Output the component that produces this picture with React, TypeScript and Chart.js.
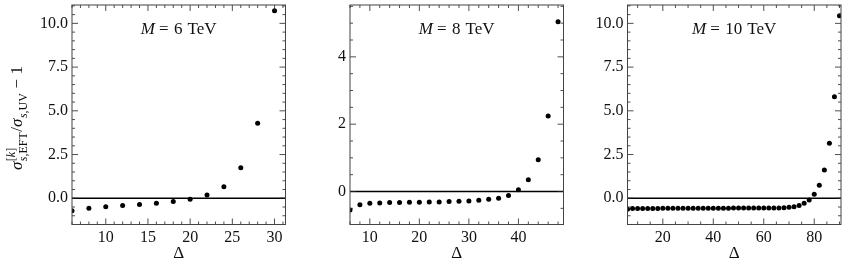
import React, { useEffect, useRef } from "react";
import { Chart, registerables } from "chart.js";

Chart.register(...registerables);

// ---------- data ----------
const deltaM6 = [6, 8, 10, 12, 14, 16, 18, 20, 22, 24, 26, 28, 30];
const ratioM6 = [-0.71, -0.57, -0.48, -0.42, -0.35, -0.29, -0.19, -0.06, 0.19, 0.66, 1.75, 4.29, 10.72];

const deltaM8 = [6, 8, 10, 12, 14, 16, 18, 20, 22, 24, 26, 28, 30, 32, 34, 36, 38, 40, 42, 44, 46, 48];
const ratioM8 = [
  -0.55, -0.39, -0.35, -0.34, -0.33, -0.33, -0.32, -0.32, -0.31, -0.31, -0.3, -0.29, -0.28, -0.26, -0.23, -0.2,
  -0.12, 0.05, 0.35, 0.94, 2.24, 5.04,
];

const deltaM10 = [
  6, 8, 10, 12, 14, 16, 18, 20, 22, 24, 26, 28, 30, 32, 34, 36, 38, 40, 42, 44, 46, 48, 50, 52, 54, 56, 58, 60, 62,
  64, 66, 68, 70, 72, 74, 76, 78, 80, 82, 84, 86, 88, 90,
];
const ratioM10 = [
  -0.63, -0.58, -0.58, -0.58, -0.58, -0.58, -0.58, -0.57, -0.57, -0.57, -0.57, -0.57, -0.57, -0.57, -0.57, -0.57,
  -0.57, -0.57, -0.57, -0.57, -0.57, -0.56, -0.56, -0.56, -0.56, -0.56, -0.56, -0.56, -0.55, -0.55, -0.55, -0.54,
  -0.52, -0.48, -0.42, -0.29, -0.1, 0.23, 0.74, 1.62, 3.14, 5.81, 10.44,
];

const xTicksM6 = [10, 15, 20, 25, 30];
const yTicksM6 = [0, 2.5, 5, 7.5, 10];
const xTicksM8 = [10, 20, 30, 40];
const yTicksM8 = [0, 2, 4];
const xTicksM10 = [20, 40, 60, 80];
const yTicksM10 = [0, 2.5, 5, 7.5, 10];

const massLabels = ["6", "8", "10"];
const xTitle = "Δ";

// ---------- layout / style ----------
const FONT = "'Liberation Serif', 'DejaVu Serif', serif";
const H = 275;
const PLOT_W = 213.5;
const PLOT_TOP = 5;
const PLOT_BOTTOM = 224.5;

type PanelCfg = {
  mass: string;
  deltas: number[];
  values: number[];
  xTicks: number[];
  yTicks: number[];
  xMin: number;
  xMax: number;
  yMin: number;
  yMax: number;
  xMinor: number;
  yMinor: number;
  decimals: number;
  canvasLeft: number;
  plotLeft: number;
  yTitle: boolean;
};

const panels: PanelCfg[] = [
  {
    mass: massLabels[0], deltas: deltaM6, values: ratioM6, xTicks: xTicksM6, yTicks: yTicksM6,
    xMin: 6, xMax: 31.3, yMin: -1.5, yMax: 11.05, xMinor: 1, yMinor: 0.5, decimals: 1,
    canvasLeft: 0, plotLeft: 72, yTitle: true,
  },
  {
    mass: massLabels[1], deltas: deltaM8, values: ratioM8, xTicks: xTicksM8, yTicks: yTicksM8,
    xMin: 6, xMax: 49.1, yMin: -0.98, yMax: 5.54, xMinor: 2, yMinor: 0.5, decimals: 0,
    canvasLeft: 280, plotLeft: 350, yTitle: false,
  },
  {
    mass: massLabels[2], deltas: deltaM10, values: ratioM10, xTicks: xTicksM10, yTicks: yTicksM10,
    xMin: 6, xMax: 90.6, yMin: -1.5, yMax: 11.05, xMinor: 5, yMinor: 0.5, decimals: 1,
    canvasLeft: 557, plotLeft: 627.5, yTitle: false,
  },
];

const fnt = (size: number, italic = false) => `${italic ? "italic " : ""}${size}px ${FONT}`;

type Run = { text: string; size: number; italic: boolean; dy: number; gap?: number };

function drawRuns(ctx: CanvasRenderingContext2D, runs: Run[], x: number) {
  let cx = x;
  for (const r of runs) {
    ctx.font = fnt(r.size, r.italic);
    ctx.fillText(r.text, cx, r.dy);
    cx += ctx.measureText(r.text).width + (r.gap || 0);
  }
  return cx - x;
}
function runsWidth(ctx: CanvasRenderingContext2D, runs: Run[]) {
  let w = 0;
  for (const r of runs) {
    ctx.font = fnt(r.size, r.italic);
    w += ctx.measureText(r.text).width + (r.gap || 0);
  }
  return w;
}

function drawYTitle(ctx: CanvasRenderingContext2D, bx: number, cy: number) {
  const M = 17;
  const S = 12;
  const sup = -7.5;
  const sub = 4.5;
  const groups: { rows: Run[][]; gapAfter: number }[] = [
    { rows: [[{ text: "σ", size: M, italic: true, dy: 0 }]], gapAfter: 0.5 },
    {
      rows: [
        [
          { text: "[", size: S, italic: false, dy: sup },
          { text: "k", size: S, italic: true, dy: sup },
          { text: "]", size: S, italic: false, dy: sup },
        ],
        [
          { text: "s", size: S, italic: true, dy: sub },
          { text: ",EFT", size: S, italic: false, dy: sub },
        ],
      ],
      gapAfter: 0.5,
    },
    { rows: [[{ text: "/", size: M, italic: false, dy: 0 }]], gapAfter: 0 },
    { rows: [[{ text: "σ", size: M, italic: true, dy: 0 }]], gapAfter: 0.5 },
    {
      rows: [
        [
          { text: "s", size: S, italic: true, dy: sub },
          { text: ",UV", size: S, italic: false, dy: sub },
        ],
      ],
      gapAfter: 4.5,
    },
    { rows: [[{ text: "−", size: M, italic: false, dy: 0 }]], gapAfter: 4.5 },
    { rows: [[{ text: "1", size: M, italic: false, dy: 0 }]], gapAfter: 0 },
  ];
  ctx.save();
  ctx.translate(bx, cy);
  ctx.rotate(-Math.PI / 2);
  ctx.fillStyle = "#111";
  ctx.textBaseline = "alphabetic";
  ctx.textAlign = "left";
  const widths = groups.map((g) => Math.max(...g.rows.map((r) => runsWidth(ctx, r))));
  const total = widths.reduce((a, b, i) => a + b + groups[i].gapAfter, 0);
  let x = -total / 2;
  groups.forEach((g, i) => {
    g.rows.forEach((r) => drawRuns(ctx, r, x));
    x += widths[i] + g.gapAfter;
  });
  ctx.restore();
}

function makeDecorPlugin(p: PanelCfg) {
  return {
    id: "decor",
    afterDraw(chart: any) {
      const { ctx, chartArea: a, scales } = chart;
      const xs = scales.x;
      const ys = scales.y;
      ctx.save();
      const line = (x1: number, y1: number, x2: number, y2: number) => {
        ctx.beginPath();
        ctx.moveTo(x1, y1);
        ctx.lineTo(x2, y2);
        ctx.stroke();
      };
      ctx.strokeStyle = "#222";
      ctx.lineWidth = 0.8;
      const isMajor = (v: number, arr: number[]) => arr.some((t) => Math.abs(t - v) < 1e-6);
      const xStart = Math.ceil(p.xMin / p.xMinor) * p.xMinor;
      for (let v = xStart; v <= p.xMax + 1e-9; v += p.xMinor) {
        const len = isMajor(v, p.xTicks) ? 6 : 3;
        const px = xs.getPixelForValue(v);
        line(px, a.bottom, px, a.bottom - len);
        line(px, a.top, px, a.top + len);
      }
      const yStart = Math.ceil(p.yMin / p.yMinor) * p.yMinor;
      for (let v = yStart; v <= p.yMax + 1e-9; v += p.yMinor) {
        const len = isMajor(v, p.yTicks) ? 6 : 3;
        const py = ys.getPixelForValue(v);
        line(a.left, py, a.left + len, py);
        line(a.right, py, a.right - len, py);
      }
      ctx.strokeStyle = "#444";
      ctx.lineWidth = 1;
      ctx.strokeRect(a.left, a.top, a.right - a.left, a.bottom - a.top);

      // annotation "M = x TeV"
      const A = 17;
      const runs: Run[] = [
        { text: "M", size: A, italic: true, dy: 0, gap: 4 },
        { text: "=", size: A, italic: false, dy: 0, gap: 5.5 },
        { text: p.mass, size: A, italic: false, dy: 0, gap: 5 },
        { text: "TeV", size: A, italic: false, dy: 0 },
      ];
      ctx.fillStyle = "#111";
      ctx.textBaseline = "alphabetic";
      ctx.textAlign = "left";
      const w = runsWidth(ctx, runs);
      const cx = (a.left + a.right) / 2;
      ctx.save();
      ctx.translate(0, 34);
      drawRuns(ctx, runs, cx - w / 2);
      ctx.restore();

      // x title
      ctx.font = fnt(17);
      ctx.textAlign = "center";
      ctx.fillText(xTitle, cx, 258);

      if (p.yTitle) drawYTitle(ctx, 22, 118);
      ctx.restore();
    },
  };
}

function Panel({ p }: { p: PanelCfg }) {
  const ref = useRef<HTMLCanvasElement>(null);
  const yAxisW = p.plotLeft - p.canvasLeft;
  const width = Math.ceil(yAxisW + PLOT_W + 4);
  const rightPad = width - yAxisW - PLOT_W;

  useEffect(() => {
    const chart = new Chart(ref.current as HTMLCanvasElement, {
      type: "scatter",
      data: {
        datasets: [
          {
            type: "line",
            data: [
              { x: p.xMin, y: 0 },
              { x: p.xMax, y: 0 },
            ],
            borderColor: "#000",
            borderWidth: 1.3,
            pointRadius: 0,
            clip: 0,
          } as any,
          {
            data: p.deltas.map((d, i) => ({ x: d, y: p.values[i] })),
            pointRadius: 2.5,
            pointBackgroundColor: "#000",
            pointBorderWidth: 0,
            showLine: false,
            clip: 0,
          } as any,
        ],
      },
      options: {
        responsive: false,
        animation: false,
        devicePixelRatio: 1,
        events: [],
        layout: { padding: { left: 0, right: rightPad, top: PLOT_TOP, bottom: 0 } },
        plugins: { legend: { display: false }, tooltip: { enabled: false } },
        scales: {
          x: {
            type: "linear",
            min: p.xMin,
            max: p.xMax,
            grid: { display: false, drawTicks: false },
            border: { display: false },
            ticks: {
              padding: 4,
              color: "#111",
              font: { family: FONT, size: 16 },
              callback: (v: any) => String(v),
            },
            afterBuildTicks: (s: any) => {
              s.ticks = p.xTicks.map((v) => ({ value: v }));
            },
            afterFit: (s: any) => {
              s.height = H - PLOT_BOTTOM;
              s.paddingLeft = 0;
              s.paddingRight = 0;
            },
          },
          y: {
            type: "linear",
            min: p.yMin,
            max: p.yMax,
            grid: { display: false, drawTicks: false },
            border: { display: false },
            ticks: {
              padding: 4,
              color: "#111",
              font: { family: FONT, size: 16 },
              callback: (v: any) => Number(v).toFixed(p.decimals),
            },
            afterBuildTicks: (s: any) => {
              s.ticks = p.yTicks.map((v) => ({ value: v }));
            },
            afterFit: (s: any) => {
              s.width = yAxisW;
              s.paddingTop = 0;
              s.paddingBottom = 0;
            },
          },
        },
      } as any,
      plugins: [makeDecorPlugin(p)],
    });
    return () => chart.destroy();
  }, []);

  return (
    <canvas
      ref={ref}
      width={width}
      height={H}
      style={{ position: "absolute", left: p.canvasLeft, top: 0, width, height: H }}
    />
  );
}

export default function App() {
  return (
    <div
      style={{
        position: "fixed",
        left: 0,
        top: 0,
        width: 847,
        height: H,
        background: "#fff",
        overflow: "hidden",
      }}
    >
      {panels.map((p, i) => (
        <Panel key={i} p={p} />
      ))}
    </div>
  );
}
